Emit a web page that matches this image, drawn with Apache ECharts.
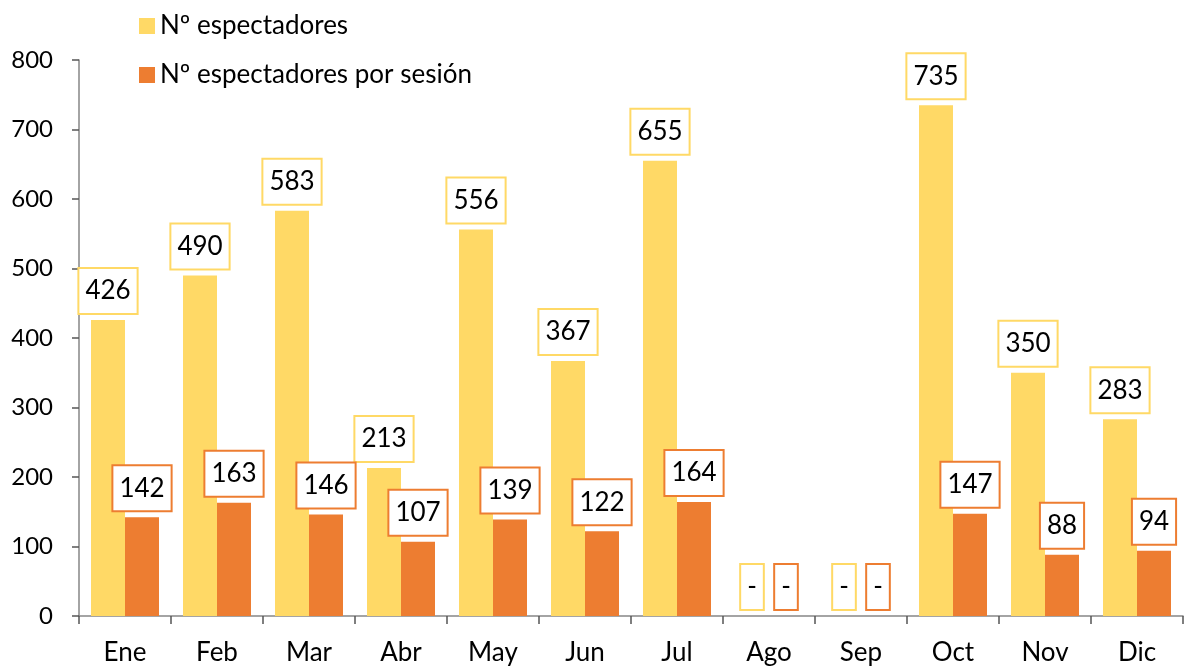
<!DOCTYPE html>
<html>
<head>
<meta charset="utf-8">
<script src="https://cdn.jsdelivr.net/npm/echarts@6/dist/echarts.min.js"></script>
<style>
  html, body { margin: 0; padding: 0; background: #fff; }
  #chart { width: 1187px; height: 666px; }
</style>
</head>
<body>
<div id="chart"></div>
<script>
// meses
const months = ['Ene', 'Feb', 'Mar', 'Abr', 'May', 'Jun', 'Jul', 'Ago', 'Sep', 'Oct', 'Nov', 'Dic']
// Nº espectadores (Ago y Sep sin datos)
const espectadores = [426, 490, 583, 213, 556, 367, 655, 0, 0, 735, 350, 283]
// Nº espectadores por sesión
const porSesion = [142, 163, 146, 107, 139, 122, 164, 0, 0, 147, 88, 94]
const sinDatos = ['Ago', 'Sep']

const yellow = '#FFD966'
const orange = '#ED7D31'
const font = 'Lato, "Source Sans Pro", "Noto Sans", sans-serif'

const chart = echarts.init(document.getElementById('chart'))

const labelFor = (color) => ({
  show: true,
  position: 'top',
  distance: 7,
  color: '#000',
  fontFamily: font,
  fontSize: 26,
  lineHeight: 28,
  backgroundColor: '#fff',
  borderColor: color,
  borderWidth: 2,
  padding: [8, 6],
  formatter: (p) => sinDatos.includes(p.name) ? '-' : p.value
})

chart.setOption({
  animation: false,
  textStyle: { fontFamily: font },
  legend: {
    orient: 'vertical',
    left: 139,
    top: 13,
    padding: 0,
    itemWidth: 16,
    itemHeight: 16,
    itemGap: 23,
    textStyle: { fontSize: 26, color: '#000', lineHeight: 26, fontFamily: font },
    data: [
      { name: 'Nº espectadores', icon: 'rect' },
      { name: 'Nº espectadores por sesión', icon: 'rect' }
    ]
  },
  grid: { left: 79, right: 4, top: 60, bottom: 50 },
  xAxis: {
    type: 'category',
    data: months,
    axisLine: { lineStyle: { color: '#868686', width: 1.5 } },
    axisTick: { show: true, length: 8, lineStyle: { color: '#555', width: 1.5 } },
    axisLabel: { fontSize: 26, color: '#000', margin: 24, fontFamily: font }
  },
  yAxis: {
    type: 'value',
    min: 0,
    max: 800,
    interval: 100,
    splitLine: { show: false },
    axisLine: { show: true, lineStyle: { color: '#868686', width: 1.5 } },
    axisTick: { show: true, length: 7, lineStyle: { color: '#555', width: 1.5 } },
    axisLabel: { fontSize: 24, color: '#000', margin: 26, fontFamily: font }
  },
  series: [
    {
      name: 'Nº espectadores',
      type: 'bar',
      data: espectadores,
      barWidth: 34,
      barGap: '0%',
      itemStyle: { color: yellow },
      label: labelFor(yellow)
    },
    {
      name: 'Nº espectadores por sesión',
      type: 'bar',
      data: porSesion,
      barWidth: 34,
      barGap: '0%',
      itemStyle: { color: orange },
      label: labelFor(orange)
    }
  ]
})

window.addEventListener('resize', () => chart.resize())
</script>
</body>
</html>
